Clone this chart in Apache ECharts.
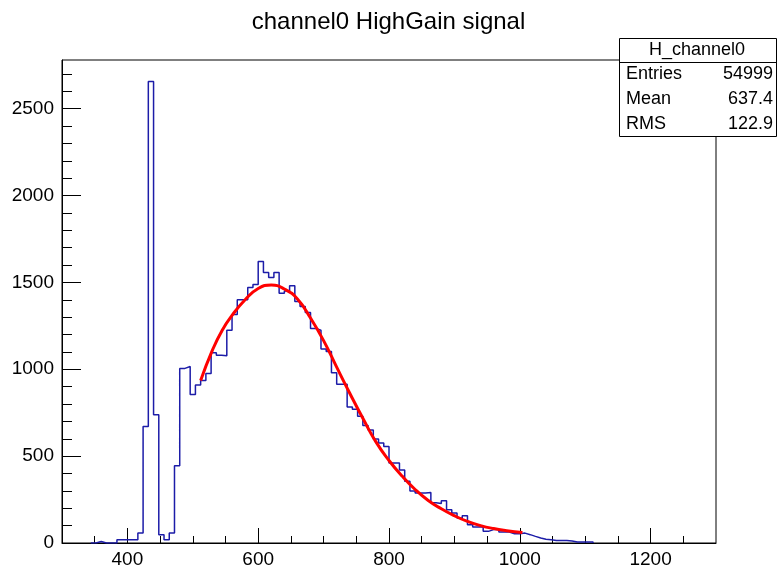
<!DOCTYPE html>
<html>
<head>
<meta charset="utf-8">
<script src="https://cdn.jsdelivr.net/npm/echarts@6/dist/echarts.min.js"></script>
<style>
  html, body { margin: 0; padding: 0; background: #fff; }
  #chart { width: 777px; height: 569px; }
</style>
</head>
<body>
<div id="chart"></div>
<script>
'use strict';

// histogram H_channel0: 8-wide bins starting at 352
const binStart = 352;
const binWidth = 8;
const counts = [
    9, 0, 0, 0, 19, 19, 19, 19, 57, 671,
    2656, 738, 48, 19, 57, 445, 1005, 1016, 855, 909,
    935, 975, 1095, 1080, 1078, 1225, 1315, 1400, 1400, 1471,
    1488, 1620, 1557, 1528, 1557, 1438, 1450, 1480, 1390, 1361,
    1327, 1235, 1225, 1116, 1102, 980, 914, 914, 783, 770,
    730, 676, 650, 598, 575, 556, 460, 460, 420, 355,
    300, 288, 288, 290, 232, 228, 243, 192, 173, 144,
    157, 105, 92, 92, 67, 77, 77, 63, 63, 53,
    53, 57, 48, 38, 29, 22, 19, 15, 15, 15,
    12, 6, 6, 6, 6
];

// fit curve
const fitX = [512, 530, 545, 560, 580, 600, 620, 640, 660, 680, 700, 720, 740,
    760, 780, 800, 820, 840, 860, 880, 900, 920, 940, 960, 980, 1004];
const fitY = [935, 1110, 1225, 1310, 1400, 1465, 1485, 1462, 1405, 1295, 1165, 1012, 862,
    718, 582, 475, 385, 308, 245, 197, 157, 124, 100, 83, 71, 60];

const xMajorTicks = [400, 600, 800, 1000, 1200];
const xMinorTicks = [350, 450, 500, 550, 650, 700, 750, 850, 900, 950, 1050, 1100, 1150, 1250];
const yMajorTicks = [0, 500, 1000, 1500, 2000, 2500];
const yMinorTicks = [100, 200, 300, 400, 600, 700, 800, 900, 1100, 1200, 1300, 1400,
    1600, 1700, 1800, 1900, 2100, 2200, 2300, 2400, 2600, 2700];

const statsRows = [['Entries', '54999'], ['Mean', '637.4'], ['RMS', '122.9']];

const FONT = '"Liberation Sans", Arial, Helvetica, sans-serif';

const histData = [[binStart - binWidth, 0]];
counts.forEach((c, i) => histData.push([binStart + i * binWidth, c]));
histData.push([binStart + counts.length * binWidth, 0]);

const fitData = fitX.map((x, i) => [x, fitY[i]]);

const chart = echarts.init(document.getElementById('chart'), null, {renderer: 'canvas'});

const statsGraphic = [
    {type: 'rect', shape: {x: 619.5, y: 38.5, width: 157, height: 98},
        style: {fill: '#fff', stroke: '#000', lineWidth: 1}, z: 100},
    {type: 'line', shape: {x1: 619.5, y1: 62.5, x2: 776.5, y2: 62.5},
        style: {stroke: '#000', lineWidth: 1}, z: 101},
    {type: 'text', x: 697, y: 50, z: 101,
        style: {text: 'H_channel0', font: '18px ' + FONT, fill: '#000', align: 'center', verticalAlign: 'middle'}}
];
statsRows.forEach((row, i) => {
    statsGraphic.push({type: 'text', x: 626, y: 74 + i * 25, z: 101,
        style: {text: row[0], font: '18px ' + FONT, fill: '#000', align: 'left', verticalAlign: 'middle'}});
    statsGraphic.push({type: 'text', x: 773, y: 74 + i * 25, z: 101,
        style: {text: row[1], font: '18px ' + FONT, fill: '#000', align: 'right', verticalAlign: 'middle'}});
});

const plainNumber = v => String(v);

chart.setOption({
    animation: false,
    backgroundColor: '#fff',
    title: {
        text: 'channel0 HighGain signal',
        left: 'center',
        top: 5,
        textStyle: {fontFamily: FONT, fontSize: 24, fontWeight: 'normal', color: '#000'}
    },
    grid: {
        left: 62, top: 60, width: 654, height: 484,
        show: true, borderColor: '#000', borderWidth: 1, backgroundColor: 'transparent'
    },
    xAxis: [{
        type: 'value', min: 300, max: 1300, position: 'bottom',
        axisLine: {lineStyle: {color: '#000', width: 1}},
        axisTick: {inside: true, length: 15, customValues: xMajorTicks, lineStyle: {color: '#000'}},
        axisLabel: {customValues: xMajorTicks, formatter: plainNumber, margin: 7,
            color: '#000', fontFamily: FONT, fontSize: 19},
        splitLine: {show: false}
    }, {
        type: 'value', min: 300, max: 1300, position: 'bottom',
        axisLine: {show: false},
        axisTick: {inside: true, length: 7, customValues: xMinorTicks, lineStyle: {color: '#000'}},
        axisLabel: {show: false},
        splitLine: {show: false}
    }],
    yAxis: [{
        type: 'value', min: 0, max: 2780, position: 'left',
        axisLine: {show: true, lineStyle: {color: '#000', width: 1}},
        axisTick: {show: true, inside: true, length: 19, customValues: yMajorTicks, lineStyle: {color: '#000'}},
        axisLabel: {customValues: yMajorTicks, formatter: plainNumber, margin: 8,
            color: '#000', fontFamily: FONT, fontSize: 19},
        splitLine: {show: false}
    }, {
        type: 'value', min: 0, max: 2780, position: 'left',
        axisLine: {show: false},
        axisTick: {show: true, inside: true, length: 10, customValues: yMinorTicks, lineStyle: {color: '#000'}},
        axisLabel: {show: false},
        splitLine: {show: false}
    }],
    series: [{
        name: 'H_channel0',
        type: 'line',
        step: 'end',
        data: histData,
        showSymbol: false,
        symbol: 'none',
        lineStyle: {color: '#1c1ca8', width: 1.5},
        z: 2
    }, {
        name: 'fit',
        type: 'line',
        smooth: true,
        data: fitData,
        showSymbol: false,
        symbol: 'none',
        lineStyle: {color: '#ff0000', width: 3},
        z: 3
    }],
    graphic: statsGraphic
});
</script>
</body>
</html>
